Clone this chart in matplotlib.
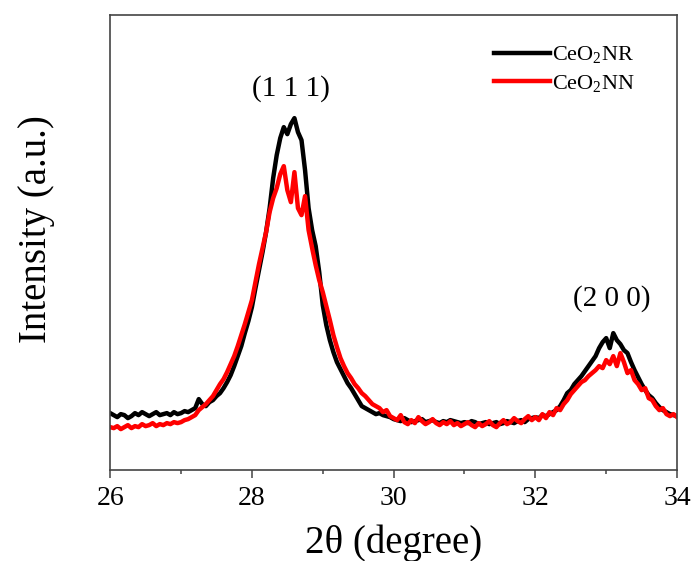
import matplotlib
matplotlib.use("Agg")
import matplotlib.pyplot as plt
import numpy as np

plt.rcParams['font.family'] = ['Liberation Serif', 'DejaVu Serif']
plt.rcParams['mathtext.fontset'] = 'custom'
plt.rcParams['mathtext.rm'] = 'Liberation Serif'
plt.rcParams['mathtext.it'] = 'Liberation Serif:italic'

# 2theta grid, 26.00 .. 34.00 in 0.05 steps (161 points)
two_theta = np.round(np.arange(161) * 0.05 + 26.0, 2)

# CeO2 nanorods (black), intensity
ceo2_nr = [
    57, 55, 53, 56, 55, 52, 54, 57, 55, 58, 56, 54, 56, 58, 55, 56, 57, 55, 58, 56,
    57, 59, 58, 60, 62, 71, 66, 64, 68, 70, 74, 77, 82, 88, 95, 104, 114, 124, 137, 149,
    163, 182, 200, 218, 238, 262, 292, 315, 332, 343, 336, 346, 352, 338, 330, 300, 262, 240, 224, 198,
    165, 145, 130, 118, 108, 101, 94, 87, 82, 76, 70, 64, 62, 60, 58, 56, 57, 55, 54, 53,
    51, 50, 49, 52, 50, 48, 49, 50, 51, 48, 49, 50, 48, 47, 49, 48, 50, 49, 48, 47,
    48, 47, 49, 48, 46, 47, 48, 46, 47, 48, 46, 47, 49, 48, 47, 49, 50, 48, 51, 52,
    53, 52, 55, 54, 56, 58, 60, 64, 70, 77, 80, 86, 90, 94, 99, 104, 109, 114, 122, 128,
    132, 122, 137, 130, 126, 120, 117, 108, 100, 93, 86, 80, 75, 72, 67, 63, 60, 58, 56, 55,
    54,
]

# CeO2 nanoparticles (red)
ceo2_nn = [
    43, 42, 44, 41, 43, 45, 42, 44, 43, 46, 44, 45, 47, 44, 46, 45, 47, 46, 48, 47,
    48, 50, 51, 53, 55, 60, 63, 66, 70, 74, 80, 86, 91, 98, 106, 114, 124, 135, 146, 158,
    170, 188, 206, 222, 238, 258, 272, 282, 296, 304, 280, 268, 298, 262, 255, 274, 240, 222, 205, 190,
    178, 164, 150, 135, 123, 112, 104, 97, 92, 86, 82, 77, 74, 70, 66, 64, 62, 58, 60, 54,
    52, 50, 55, 48, 46, 50, 47, 53, 49, 46, 48, 51, 47, 45, 48, 46, 49, 45, 47, 44,
    46, 48, 45, 43, 47, 44, 46, 49, 45, 43, 47, 50, 46, 48, 52, 49, 47, 51, 54, 50,
    53, 50, 56, 52, 58, 55, 62, 60, 66, 70, 76, 80, 84, 88, 90, 94, 97, 100, 104, 102,
    110, 106, 114, 104, 117, 108, 97, 100, 90, 86, 80, 82, 72, 70, 64, 60, 62, 56, 54, 56,
    53,
]

series_labels = ['CeO$_2$NR', 'CeO$_2$NN']
peak_labels = ['(1 1 1)', '(2 0 0)']
peak_pos = [28.55, 33.08]
peak_label_y = [382, 172]

fig = plt.figure(figsize=(6.93, 5.61), dpi=100)
ax = fig.add_axes([0.159, 0.162, 0.818, 0.811])

ax.plot(two_theta, ceo2_nr, color='black', lw=3.2, label=series_labels[0])
ax.plot(two_theta, ceo2_nn, color='red', lw=3.2, label=series_labels[1])

for lab, px, py in zip(peak_labels, peak_pos, peak_label_y):
    ax.text(px, py, lab, ha='center', va='center', fontsize=21)

ax.set_xlim(26, 34)
ax.set_ylim(0, 455)
ax.set_xticks([26, 28, 30, 32, 34])
ax.set_xticks([27, 29, 31, 33], minor=True)
ax.set_yticks([])
ax.tick_params(axis='x', which='major', direction='out', length=5.5, width=1.1,
               labelsize=20, pad=6, color='#444')
ax.tick_params(axis='x', which='minor', direction='out', length=3, width=1.1, color='#444')
for sp in ax.spines.values():
    sp.set_linewidth(1.2)
    sp.set_color('#444')

ax.set_xlabel('2θ (degree)', fontsize=28, labelpad=10)
ax.set_ylabel('Intensity (a.u.)', fontsize=28, labelpad=40)
ax.yaxis.label.set_y(0.53)

ax.legend(loc='upper left', bbox_to_anchor=(0.65, 0.97), frameon=False,
          fontsize=16, handlelength=2.5, handletextpad=0.1, borderpad=0.2,
          labelspacing=0.35)

fig.savefig('out.png', dpi=100)
